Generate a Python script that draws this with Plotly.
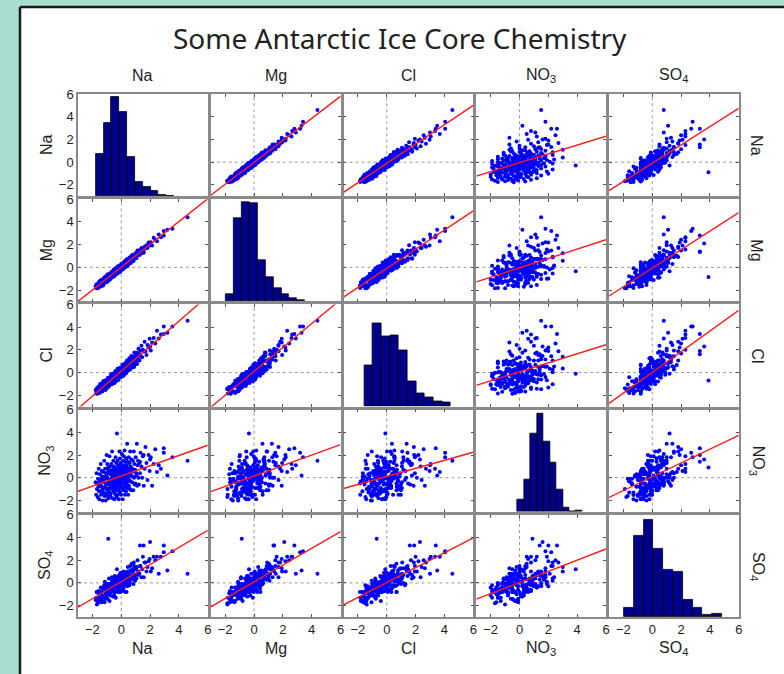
import numpy as np
import plotly.graph_objects as go

TITLE = "Some Antarctic Ice Core Chemistry"
LABELS = ["Na", "Mg", "Cl", "NO<sub>3</sub>", "SO<sub>4</sub>"]

NA = [-1.78, -1.74, -1.71, -1.69, -1.66, -1.63, -1.61, -1.58, -1.56, -1.54,
      -1.52, -1.5, -1.48, -1.46, -1.44, -1.42, -1.4, -1.38, -1.36, -1.34,
      -1.32, -1.3, -1.28, -1.26, -1.24, -1.22, -1.2, -1.18, -1.16, -1.14,
      -1.13, -1.12, -1.1, -1.09, -1.08, -1.06, -1.05, -1.04, -1.02, -1.01,
      -1.0, -0.99, -0.97, -0.96, -0.95, -0.94, -0.92, -0.91, -0.9, -0.88,
      -0.87, -0.86, -0.85, -0.83, -0.82, -0.81, -0.79, -0.78, -0.77, -0.76,
      -0.74, -0.73, -0.72, -0.7, -0.69, -0.68, -0.66, -0.65, -0.64, -0.63,
      -0.61, -0.6, -0.59, -0.58, -0.57, -0.56, -0.55, -0.54, -0.53, -0.52,
      -0.51, -0.5, -0.49, -0.48, -0.47, -0.46, -0.45, -0.44, -0.43, -0.42,
      -0.41, -0.4, -0.39, -0.38, -0.37, -0.36, -0.35, -0.34, -0.33, -0.32,
      -0.31, -0.3, -0.29, -0.28, -0.27, -0.26, -0.25, -0.24, -0.23, -0.22,
      -0.21, -0.2, -0.19, -0.18, -0.17, -0.16, -0.15, -0.14, -0.13, -0.12,
      -0.11, -0.1, -0.09, -0.08, -0.07, -0.06, -0.05, -0.04, -0.03, -0.02,
      -0.01, 0.0, 0.01, 0.02, 0.03, 0.04, 0.05, 0.06, 0.08, 0.1,
      0.11, 0.12, 0.13, 0.14, 0.15, 0.16, 0.17, 0.18, 0.19, 0.2,
      0.21, 0.22, 0.23, 0.24, 0.25, 0.26, 0.27, 0.28, 0.29, 0.3,
      0.31, 0.32, 0.33, 0.35, 0.36, 0.37, 0.38, 0.4, 0.41, 0.42,
      0.44, 0.45, 0.46, 0.48, 0.49, 0.5, 0.52, 0.53, 0.55, 0.56,
      0.58, 0.59, 0.6, 0.62, 0.63, 0.65, 0.66, 0.68, 0.7, 0.72,
      0.75, 0.77, 0.79, 0.81, 0.83, 0.85, 0.87, 0.89, 0.91, 0.93,
      0.96, 0.98, 1.0, 1.03, 1.05, 1.08, 1.1, 1.13, 1.16, 1.19,
      1.22, 1.26, 1.3, 1.34, 1.4, 1.45, 1.5, 1.56, 1.62, 1.68,
      1.75, 1.82, 1.9, 1.97, 2.05, 2.14, 2.25, 2.36, 2.48, 2.6,
      2.75, 2.95, 3.2, 3.55, 4.6, -0.9, 1.3, 1.55, 2.0, 2.95, -0.3]

MG = [-1.66, -1.82, -1.50, -1.84, -1.61, -1.85, -1.43, -1.56, -1.67, -1.27,
      -1.57, -1.31, -1.72, -1.37, -1.13, -1.55, -1.40, -1.66, -1.22, -1.36,
      -1.10, -1.47, -1.22, -1.59, -1.13, -0.97, -1.27, -1.02, -1.37, -1.11,
      -1.23, -0.84, -1.29, -1.01, -1.10, -0.91, -1.31, -0.84, -0.98, -1.13,
      -0.83, -1.08, -0.64, -1.16, -0.88, -1.25, -0.80, -0.95, -0.67, -1.03,
      -1.11, -0.76, -0.91, -0.57, -1.00, -0.79, -0.59, -1.07, -0.69, -0.87,
      -0.60, -0.95, -0.68, -0.83, -0.40, -0.74, -0.48, -0.90, -0.54, -0.63,
      -0.77, -0.39, -0.62, -0.45, -0.84, -0.49, -0.65, -0.22, -0.72, -0.47,
      -0.42, -0.64, -0.25, -0.53, -0.31, -0.76, -0.44, -0.25, -0.51, -0.15,
      -0.62, -0.34, -0.51, -0.08, -0.38, -0.21, -0.58, -0.23, -0.50, -0.12,
      -0.18, -0.56, -0.26, -0.06, -0.36, 0.08, -0.40, -0.18, 0.02, -0.26,
      -0.28, -0.02, -0.48, -0.08, -0.37, -0.12, 0.11, -0.27, -0.05, -0.34,
      0.17, -0.21, 0.06, -0.40, -0.05, 0.14, -0.21, 0.05, -0.28, 0.10,
      -0.19, 0.07, 0.32, -0.04, 0.20, -0.20, 0.05, 0.27, -0.05, 0.15,
      0.21, -0.16, 0.17, 0.33, 0.05, 0.42, 0.12, -0.02, 0.33, 0.18,
      0.06, 0.45, 0.16, 0.54, 0.26, 0.07, 0.38, 0.01, 0.45, 0.36,
      0.51, 0.23, 0.60, 0.12, 0.44, 0.23, 0.71, 0.36, 0.59, 0.12,
      0.42, 0.69, 0.29, 0.60, 0.23, 0.55, 0.72, 0.42, 0.84, 0.49,
      0.73, 0.39, 0.63, 0.88, 0.50, 0.74, 0.38, 0.86, 0.65, 1.03,
      0.51, 0.87, 1.11, 0.73, 1.00, 0.55, 0.91, 1.11, 0.76, 1.02,
      1.08, 0.79, 1.27, 1.03, 0.80, 1.24, 1.04, 1.48, 1.04, 1.40,
      1.12, 1.51, 1.10, 1.48, 1.70, 1.29, 1.57, 1.29, 1.81, 1.70,
      1.95, 1.70, 2.18, 1.92, 2.20, 1.92, 2.60, 2.44, 2.30, 2.90,
      2.65, 3.2, 3.3, 3.4, 4.4, -0.85, 1.35, 1.4, 2.1, 2.8, -0.35]

CL = [-1.53, -1.84, -1.66, -1.39, -1.86, -1.48, -1.66, -1.23, -1.46, -1.69,
      -1.42, -1.80, -1.28, -1.01, -1.54, -1.42, -1.10, -1.63, -1.21, -0.94,
      -1.67, -1.10, -1.23, -1.41, -0.74, -1.27, -0.95, -1.48, -1.06, -0.79,
      -0.98, -1.32, -0.70, -1.54, -1.03, -0.76, -1.15, -0.84, -1.32, -1.01,
      -1.20, -0.64, -0.87, -1.01, -1.35, -0.74, -0.47, -1.06, -0.90, -0.63,
      -0.57, -1.11, -0.80, -1.18, -0.67, -0.41, -0.89, -0.58, -0.97, -0.66,
      -0.79, -0.48, -1.02, -0.15, -0.69, -0.83, -0.46, -0.30, -1.04, -0.53,
      -0.41, -0.70, -0.14, -0.88, -0.47, -0.76, -0.25, -0.54, -0.38, -0.87,
      -0.76, -0.10, -0.59, -0.33, -0.92, -0.41, -0.20, -0.64, 0.07, -0.47,
      -0.06, -0.55, -0.39, -0.78, -0.17, 0.19, -0.60, -0.24, -0.38, -0.02,
      -0.61, -0.20, 0.11, -0.48, -0.22, -0.61, 0.00, 0.36, -0.33, -0.07,
      -0.01, -0.65, -0.09, 0.17, -0.32, -0.16, -0.45, 0.31, 0.02, -0.22,
      -0.31, 0.20, -0.14, 0.02, 0.43, -0.41, 0.15, -0.19, 0.32, -0.02,
      0.44, -0.10, 0.21, -0.38, 0.08, 0.34, -0.20, 0.16, 0.68, -0.10,
      -0.19, 0.27, 0.53, 0.04, 0.40, -0.29, 0.22, 0.53, -0.01, 0.70,
      0.31, -0.13, 0.53, 0.24, 0.05, 0.81, 0.17, 0.48, 0.69, 0.00,
      0.16, 0.77, -0.07, 0.55, 0.41, 0.67, 0.13, 1.05, 0.36, 0.57,
      0.79, 0.25, 0.56, 0.98, 0.19, 0.70, 0.52, 0.93, 0.40, 1.26,
      0.48, 0.84, 1.15, 0.27, 0.78, 1.05, 0.46, 0.98, 1.45, 0.67,
      1.05, 0.47, 0.89, 1.41, 0.68, 1.30, 1.07, 0.49, 1.76, 0.98,
      0.71, 1.48, 1.15, 0.93, 1.75, 1.38, 0.75, 1.68, 1.16, 2.09,
      1.62, 1.06, 1.95, 1.44, 2.35, 1.35, 2.00, 1.86, 2.72, 1.88,
      1.55, 2.42, 2.20, 2.97, 1.95, 2.64, 3.05, 2.56, 3.68, 3.00,
      3.35, 4.05, 3.5, 4.05, 4.55, -0.7, 1.6, 1.9, 2.3, 3.4, -0.1]

NO3 = [-0.4, -1.5, 0.4, -1.0, -0.5, -1.7, -0.1, -0.8, 0.8, -1.2,
       -1.9, -0.3, 0.3, -1.2, -0.6, 1.2, -1.5, -0.1, -0.8, 0.6,
       0.1, -2.0, -1.0, -0.3, 0.5, -1.3, -0.4, 1.5, -1.6, -0.1,
       -0.8, 0.8, -1.4, 0.1, -2.0, -0.5, 0.4, -1.0, 2.0, -1.4,
       0.1, -0.6, 1.2, -1.6, -0.1, -1.0, 0.5, -0.5, -1.2, 0.7,
       -1.8, -0.2, 0.4, -0.9, 1.9, -1.3, -0.3, 1.0, -0.6, -1.6,
       0.3, -1.4, -0.2, 1.2, -0.7, 0.6, -1.0, 0.0, 2.3, -0.5,
       -0.9, 0.7, -1.8, 0.2, -0.2, -0.5, 1.5, -1.2, 0.0, 0.5,
       1.0, -1.0, 0.1, -1.9, 0.4, -0.3, 0.9, -0.7, -1.4, 0.7,
       -0.6, 0.3, 1.8, -1.5, -0.1, -0.9, 1.3, -0.4, 0.7, -1.7,
       -0.1, -1.1, 0.6, 0.1, -0.6, 1.5, -1.5, 0.3, -0.2, 0.9,
       -1.0, 0.3, 1.1, -0.3, -1.9, 0.5, 0.0, -0.7, 2.3, -1.2,
       0.3, -0.5, 1.7, -1.3, 0.0, 0.8, -0.7, 1.3, -0.3, 0.5,
       -1.5, 0.9, -0.1, 0.6, -0.9, 2.1, 0.2, -0.4, 1.1, -1.9,
       0.5, -0.8, 1.5, -0.1, 0.8, -1.1, 0.1, 1.9, -0.5, 0.4,
       -0.9, 0.2, 2.4, -0.4, 1.1, -1.5, 0.7, -0.1, -0.8, 1.4,
       0.9, -0.2, -1.2, 1.7, 0.4, -0.5, 1.1, -0.9, 3.0, 0.2,
       -0.3, 1.4, 0.5, -1.5, 0.8, 0.0, 1.8, -0.7, 0.3, -0.2,
       1.3, -1.0, 0.7, 2.3, -0.3, 1.0, 0.2, -1.1, 1.6, 0.5,
       -0.4, 0.8, 0.1, 1.5, -1.1, 0.6, 2.3, 0.0, 1.2, -0.6,
       0.7, -0.5, 1.8, 0.4, 0.2, 3.0, -0.7, 1.1, 1.5, 0.0,
       -0.6, 1.3, 0.4, 2.2, 1.0, 0.0, 1.9, -0.7, 0.8, 2.7,
       1.3, -0.2, 2.0, 0.6, 1.8, -0.7, 1.2, 2.5, 0.5, 1.1,
       0.8, 2.2, 0.2, 1.8, 1.5, 0.9, 1.4, 2.0, 1.6, 2.6, 3.9]

SO4 = [-1.5, -1.3, -0.8, -1.9, -0.8, -1.8, -1.6, -0.9, -0.7, -0.8,
       -1.3, -1.6, -0.9, -0.8, -1.4, -0.4, -1.0, -1.7, -1.1, -0.8,
       -1.2, -1.1, -0.5, -1.6, -0.5, -1.3, -0.7, -0.2, -1.7, 0.1,
       -0.4, -0.6, -0.8, -1.0, -0.4, -1.4, -0.4, -0.6, -0.3, -0.9,
       -1.1, -0.1, -0.4, -1.0, -1.4, -0.5, -0.5, -0.5, -0.4, -0.7,
       -0.8, -1.0, 0.4, -0.8, -0.1, -1.6, -0.1, -0.3, -0.5, -0.4,
       -1.1, -0.8, -0.1, -0.3, -0.1, -0.7, -0.7, 0.5, 0.2, -0.2,
       -0.3, -0.7, -0.7, -1.2, -0.1, 0.2, -0.3, -0.6, -0.8, -0.2,
       -0.2, -0.1, -1.1, -0.6, -0.2, -0.8, 0.6, -0.3, -0.8, -0.6,
       0.4, -0.4, 0.5, -1.3, 0.2, -0.6, -0.3, 0.4, 0.0, -0.6,
       -0.6, 0.0, -0.7, 0.1, 0.5, 0.0, -0.6, -0.5, 0.2, 0.0,
       -0.4, -0.8, 0.6, 0.3, -0.8, -0.5, 0.6, -0.3, 0.4, -0.1,
       -0.6, -0.1, 0.3, -0.5, 0.8, -0.2, 0.0, 0.9, -0.8, 0.3,
       -0.2, -0.2, 0.6, -0.6, -0.1, 0.8, -0.2, 0.8, 0.4, -0.2,
       -0.7, 0.2, 0.6, -0.3, 1.0, -0.5, 0.6, 0.1, 0.1, -0.2,
       0.4, 0.1, 0.5, 0.8, -0.1, 0.0, 0.4, 0.5, -0.8, 0.9,
       0.2, 0.8, 0.0, 0.3, 0.7, -0.8, 0.7, 0.5, 1.0, -0.3,
       0.7, 0.3, 1.4, -0.1, -0.1, 0.6, 0.7, 0.1, 1.0, -0.2,
       0.7, 0.3, 0.0, 1.5, 1.1, 0.4, 1.1, 0.3, 0.6, 1.7,
       0.7, 0.3, 1.2, 1.0, 0.4, -0.1, 1.8, 1.5, 0.7, 0.6,
       0.2, 1.2, 1.3, 1.3, 0.4, 1.4, 0.8, 2.0, 0.7, 1.0,
       0.8, 0.8, 1.5, 1.5, 0.5, 1.2, 2.3, 0.5, 1.8, 1.8,
       1.0, 1.4, 1.9, 2.1, 1.0, 1.3, 2.3, 2.0, 2.3, 0.8,
       2.3, 2.7, 1.1, 2.8, 0.8, 3.9, 3.3, 3.3, 3.6, 3.3, 1.2]

# Diagonal histograms (first bin edge, bin width, bar counts) as drawn
HIST_START = [-1.77, -1.96, -1.56, -0.15, -1.96]
HIST_BINW = [0.544, 0.55, 0.60, 0.45, 0.68]
HIST_NA = [125, 214, 290, 246, 114, 41, 28, 15, 4, 2]
HIST_MG = [20, 245, 290, 287, 120, 70, 40, 20, 8, 3]
HIST_CL = [120, 243, 205, 208, 166, 73, 40, 27, 16, 11]
HIST_NO3 = [36, 94, 229, 287, 206, 144, 65, 13, 0, 5]
HIST_SO4 = [26, 239, 284, 200, 138, 133, 51, 26, 7, 9]
HIST_YMAX = 300

AX_RANGE = [-3, 6]
TICK_VALS = [-2, 0, 2, 4, 6]

series = [NA, MG, CL, NO3, SO4]
hists = [HIST_NA, HIST_MG, HIST_CL, HIST_NO3, HIST_SO4]
n = len(NA)
assert all(len(s) == n for s in series), [len(s) for s in series]

W, H = 784, 674
LEFT0, STEPX, PW = 78.0, 132.75, 129.75
TOP0, STEPY, PH = 94.0, 105.2, 102.2
FRAME = "#8a8a8a"
FONT = "Liberation Sans, Arial, Helvetica, sans-serif"
TXT = "#1e1e1e"

fig = go.Figure()
axes = {}
zero_shapes = []
span = AX_RANGE[1] - AX_RANGE[0]

for r in range(5):
    for c in range(5):
        k = r * 5 + c + 1
        sx = "" if k == 1 else str(k)
        x0 = (LEFT0 + c * STEPX) / W
        x1 = x0 + PW / W
        top = TOP0 + r * STEPY
        y1 = 1 - top / H
        y0 = 1 - (top + PH) / H
        diag = (r == c)
        common = dict(
            range=AX_RANGE, tickvals=TICK_VALS, showline=True, linecolor=FRAME,
            linewidth=1.5, mirror=(True if diag else "allticks"),
            ticks=("" if diag else "inside"), ticklen=3, tickcolor="#555",
            tickwidth=1, showgrid=False, zeroline=False, fixedrange=True,
            tickfont=dict(family=FONT, size=13, color=TXT),
        )
        axes["xaxis" + sx] = dict(common, domain=[x0, x1], anchor="y" + sx,
                                  showticklabels=(r == 4))
        axes["yaxis" + sx] = dict(common, domain=[y0, y1], anchor="x" + sx,
                                  showticklabels=(c == 0))
        if diag:
            counts = hists[c]
            centers = [HIST_START[c] + (i + 0.5) * HIST_BINW[c] for i in range(len(counts))]
            # hidden histogram scale [0, HIST_YMAX] mapped onto the panel height
            heights = [v * span / HIST_YMAX for v in counts]
            fig.add_trace(go.Bar(
                x=centers, y=heights, base=AX_RANGE[0], width=HIST_BINW[c],
                marker=dict(color="#00008b", line=dict(color="black", width=0.8)),
                xaxis="x" + sx, yaxis="y" + sx, hoverinfo="skip"))
        else:
            zero_shapes.append(dict(
                type="line", xref="x" + sx, yref="y" + sx + " domain",
                x0=0, x1=0, y0=0, y1=1,
                line=dict(color="#9a9a9a", width=1, dash="dot"), layer="below"))
            zero_shapes.append(dict(
                type="line", xref="x" + sx + " domain", yref="y" + sx,
                x0=0, x1=1, y0=0, y1=0,
                line=dict(color="#9a9a9a", width=1, dash="dot"), layer="below"))
            fig.add_trace(go.Scatter(
                x=series[c], y=series[r], mode="markers",
                marker=dict(size=4, color="#0000ff", line=dict(width=0)),
                xaxis="x" + sx, yaxis="y" + sx, hoverinfo="skip"))
            slope, icpt = np.polyfit(series[c], series[r], 1)
            xs = np.array(AX_RANGE, dtype=float)
            fig.add_trace(go.Scatter(
                x=xs, y=slope * xs + icpt, mode="lines",
                line=dict(color="#ff1a1a", width=1.4),
                xaxis="x" + sx, yaxis="y" + sx, hoverinfo="skip"))

sheet = [
    dict(type="rect", xref="paper", yref="paper", x0=20 / W, x1=1, y0=0, y1=1 - 7 / H,
         fillcolor="white", line=dict(width=0), layer="below"),
    dict(type="line", xref="paper", yref="paper", x0=20 / W, x1=20 / W, y0=0, y1=1 - 7 / H,
         line=dict(color="#1a1a1a", width=2.5), layer="below"),
    dict(type="line", xref="paper", yref="paper", x0=20 / W, x1=1, y0=1 - 7 / H, y1=1 - 7 / H,
         line=dict(color="#1a1a1a", width=2.5), layer="below"),
]

ann = [dict(text=TITLE, xref="paper", yref="paper", x=400 / W, y=1 - 38 / H,
            showarrow=False, xanchor="center", yanchor="middle",
            font=dict(family="Noto Sans, sans-serif", size=28, color="#222"))]
for i, lab in enumerate(LABELS):
    cx = (LEFT0 + i * STEPX + PW / 2) / W
    cy = 1 - (TOP0 + i * STEPY + PH / 2) / H
    f = dict(family=FONT, size=16, color=TXT)
    ann.append(dict(text=lab, xref="paper", yref="paper", x=cx, y=1 - 75 / H,
                    showarrow=False, xanchor="center", yanchor="middle", font=f))
    ann.append(dict(text=lab, xref="paper", yref="paper", x=cx, y=1 - 648 / H,
                    showarrow=False, xanchor="center", yanchor="middle", font=f))
    ann.append(dict(text=lab, xref="paper", yref="paper", x=46 / W, y=cy,
                    showarrow=False, xanchor="center", yanchor="middle",
                    textangle=-90, font=f))
    ann.append(dict(text=lab, xref="paper", yref="paper", x=757 / W, y=cy,
                    showarrow=False, xanchor="center", yanchor="middle",
                    textangle=90, font=f))

fig.update_layout(
    width=W, height=H, margin=dict(l=0, r=0, t=0, b=0, autoexpand=False),
    paper_bgcolor="rgb(168,222,208)", plot_bgcolor="white",
    showlegend=False, bargap=0, shapes=sheet + zero_shapes, annotations=ann,
    **axes,
)
fig.write_html("out.html", config={"displayModeBar": False},
               post_script="document.body.style.margin='0';document.body.style.overflow='hidden';")
